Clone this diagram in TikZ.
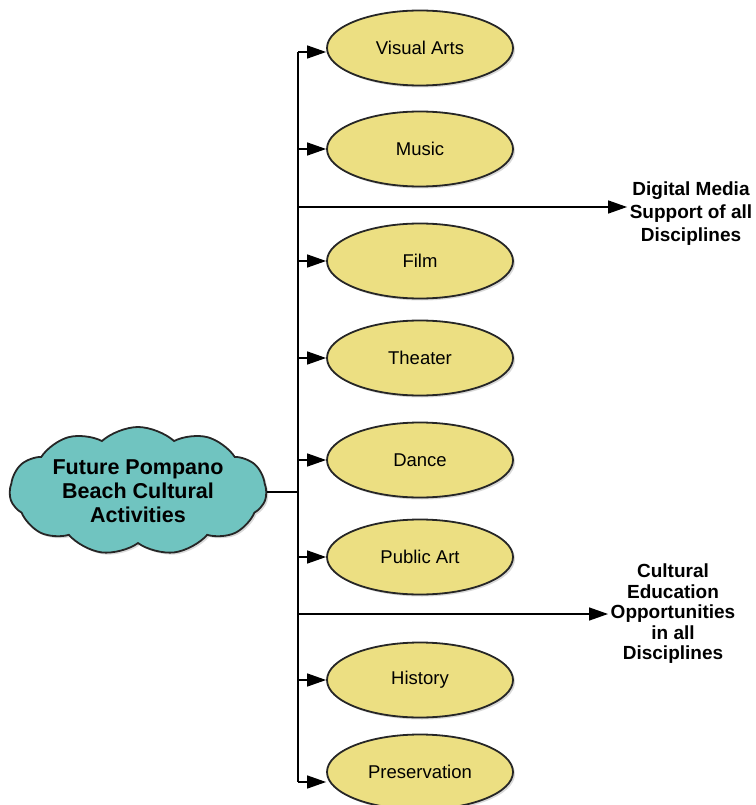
\documentclass[tikz,border=0pt]{standalone}
\usepackage{fontspec}
\setmainfont{Liberation Sans}
\usetikzlibrary{arrows.meta,shapes.geometric,shapes.symbols,shadows}
\definecolor{areafill}{RGB}{236,223,130}
\definecolor{cloudfill}{RGB}{112,196,192}
\def\trunkx{298}

\begin{document}
\begin{tikzpicture}[x=1pt,y=-1pt,line width=1.4pt]
    \tikzstyle{arr}=[-{Triangle[length=19pt,width=13pt]}]
    \tikzstyle{area}=[ellipse,draw=black!85,line width=1.8pt,fill=areafill,
        minimum width=186pt,minimum height=75pt,inner sep=0pt,
        font=\fontsize{18.5}{22}\selectfont,
        drop shadow={opacity=0.3,shadow xshift=2pt,shadow yshift=-2pt}]
    \tikzstyle{annot}=[align=center,inner sep=2pt,font=\bfseries\fontsize{19}{22}\selectfont]

    \useasboundingbox (0,0) rectangle (755,805);

    % the cloud on the left
    \node[cloud,cloud puffs=11,cloud puff arc=85,cloud ignores aspect,
        draw=black!85,line width=1.8pt,fill=cloudfill,
        minimum width=257pt,minimum height=128pt,align=center,
        font=\bfseries\fontsize{21.5}{24}\selectfont,
        drop shadow={opacity=0.3,shadow xshift=2pt,shadow yshift=-2pt}]
        (C) at (138,491) {Future Pompano\\Beach Cultural\\Activities};

    % Draw the activity nodes
    \foreach \name / \y / \txt in {VA/48/Visual Arts,MU/149/Music,FI/261/Film,
        TH/358/Theater,DA/460/Dance,PA/557/Public Art,HI/680/History,PR/772/Preservation}
        \node[area] (\name) at (420,\y) {\txt};

    % the two notes on the right
    \node[annot,font=\bfseries\fontsize{19}{23}\selectfont] (DM) at (691,214)
        {Digital Media\\Support of all\\Disciplines};
    \node[annot,font=\bfseries\fontsize{19}{20.5}\selectfont] (CE) at (673,614)
        {Cultural\\Education\\Opportunities\\in all\\Disciplines};

    % the trunk
    \coordinate (T-top) at (\trunkx,52);
    \coordinate (T-bot) at (\trunkx,782);
    \coordinate (T-C) at (\trunkx,492);
    \coordinate (T-DM) at (\trunkx,207);
    \coordinate (T-CE) at (\trunkx,614);
    \draw (T-top) -- (T-bot);
    \draw (C.east |- T-C) -- (T-C);

    % Connect the trunk with every activity
    \foreach \name in {MU,FI,TH,DA,PA,HI}
        \draw[arr] (\name.west -| T-top) -- (\name.west);
    \draw[arr] (T-top) -- (T-top -| VA.west);
    \draw[arr] (T-bot) -- (T-bot -| PR.west);

    % and with the notes
    \draw[arr] (T-DM) -- (T-DM -| DM.west);
    \draw[arr] (T-CE) -- (T-CE -| CE.west);
\end{tikzpicture}
\end{document}
